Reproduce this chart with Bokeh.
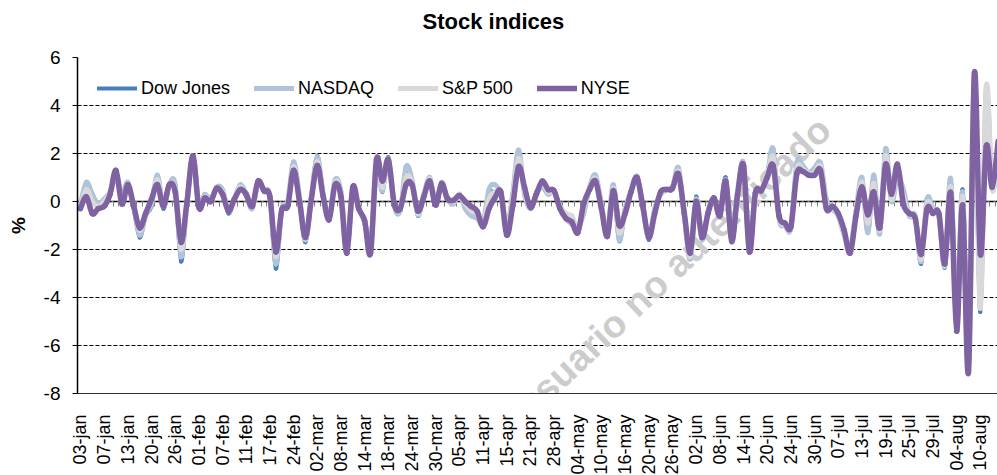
import math
import numpy as np
import pandas as pd
from bokeh.plotting import figure
from bokeh.models import (Range1d, LinearAxis, FixedTicker, Label, Legend, LegendItem,
                          ColumnDataSource, Title)
from bokeh.embed import file_html
from bokeh.resources import INLINE

# ---- categories: 2011 trading days ----
holidays = ["2011-01-17", "2011-02-21", "2011-04-22", "2011-05-30", "2011-07-04"]
days = pd.bdate_range("2011-01-03", "2011-08-15")
days = days[~days.isin(pd.to_datetime(holidays))]
dates = [d.strftime("%d-") + d.strftime("%b").lower() for d in days]

tick_labels = ["03-jan", "07-jan", "13-jan", "20-jan", "26-jan", "01-feb", "07-feb", "11-feb",
               "17-feb", "24-feb", "02-mar", "08-mar", "14-mar", "18-mar", "24-mar", "30-mar",
               "05-apr", "11-apr", "15-apr", "21-apr", "28-apr", "04-may", "10-may", "16-may",
               "20-may", "26-may", "02-jun", "08-jun", "14-jun", "20-jun", "24-jun", "30-jun",
               "07-jul", "13-jul", "19-jul", "25-jul", "29-jul", "04-aug", "10-aug"]

y_ticks = [-8, -6, -4, -2, 0, 2, 4, 6]

# ---- series (% daily change) ----
dow = [-0.2, 0.75, 0.2, -0.1, 0.1, 0.4, 1.0, 0.2, 0.6, -0.3,
       -1.5, -0.6, -0.2, 1.0, -0.3, 0.6, 0.6, -2.5, 0.1, 1.8,
       -0.1, 0.3, 0.1, 0.5, 0.4, -0.5, 0.1, 0.6, 0.2, -0.3,
       0.7, 0.4, 0.1, -2.8, -0.4, -0.1, 1.6, 0.1, -1.7, 0.2,
       1.9, 0.3, -0.8, 0.8, 0.3, -2.1, 0.5, -0.3, -0.9, -2.0,
       1.5, 0.4, 1.85, -0.2, -0.4, 1.1, 0.8, -0.6, 0.3, 1.0,
       -0.1, 0.7, 0.2, 0.0, 0.3, -0.2, -0.5, -0.6, -0.9, 0.4,
       0.3, 0.3, -1.1, 0.3, 2.1, 0.3, -0.3, 0.4, 0.7, 0.3,
       0.4, -0.2, -0.6, -0.9, -1.2, -0.4, 0.5, 1.0, -0.2, -1.3,
       0.6, -1.65, -0.3, 0.5, 1.0, -0.3, -1.6, -0.3, 0.3, 0.5,
       0.5, 1.4, -0.5, -2.4, 0.2, -1.6, -0.4, 0.0, -0.5, 1.0,
       -1.7, 0.3, 1.6, -2.1, 0.3, 0.5, 1.0, 2.1, -0.7, -1.0,
       -1.1, 1.5, 1.4, 1.2, 1.3, 1.5, 0.0, -0.2, -0.6, -1.3,
       -2.1, -0.5, 0.9, -1.3, 1.0, -1.3, 2.2, 0.0, 1.2, 0.4,
       -0.6, -0.6, -2.6, 0.1, -0.4, -0.5, -2.75, 0.9, -4.3, 0.5,
       -5.55, 4.0, -4.6, 4.6, 0.5, 2.0]

nasdaq = [-0.1, 0.8, 0.3, -0.1, 0.1, 0.4, 1.0, 0.3, 0.8, -0.2,
          -1.4, -0.6, -0.1, 1.1, -0.2, 0.7, 0.7, -2.3, 0.0, 1.85,
          -0.1, 0.3, 0.1, 0.6, 0.5, -0.4, 0.1, 0.7, 0.3, -0.3,
          0.8, 0.5, 0.2, -2.6, -0.3, 0.0, 1.65, 0.2, -1.6, 0.2,
          1.85, 0.3, -0.7, 0.9, 0.4, -2.0, 0.5, -0.3, -0.8, -1.9,
          1.4, 0.45, 1.8, -0.1, -0.4, 1.45, 0.9, -0.55, 0.3, 1.0,
          -0.1, 0.8, 0.1, -0.1, 0.3, -0.3, -0.6, -0.7, -0.9, 0.5,
          0.7, 0.3, -1.0, 0.3, 2.15, 0.3, -0.3, 0.3, 0.6, 0.3,
          0.4, -0.3, -0.7, -0.95, -1.1, -0.5, 0.6, 1.1, -0.1, -1.3,
          0.7, -1.6, -0.3, 0.4, 1.05, -0.3, -1.5, -0.3, 0.3, 0.5,
          0.6, 1.4, -0.6, -2.4, 0.1, -1.6, -0.4, 0.1, -0.6, 0.9,
          -1.7, 0.4, 1.6, -2.0, 0.4, 0.5, 1.1, 2.2, -0.7, -1.0,
          -1.1, 1.6, 1.5, 1.2, 1.4, 1.6, 0.1, -0.3, -0.6, -1.4,
          -2.0, -0.4, 1.0, -1.3, 1.1, -1.35, 2.2, 0.0, 1.0, 0.5,
          -0.6, -0.6, -2.5, 0.1, -0.3, -0.6, -2.7, 0.95, -5.1, 0.4,
          -6.9, 5.3, -4.1, 4.7, 0.6, 2.2]

sp500 = [-0.2, 0.5, 0.0, -0.2, 0.0, 0.4, 1.1, 0.1, 0.7, -0.2,
         -1.2, -0.5, 0.0, 0.9, -0.2, 0.7, 0.5, -2.0, 0.0, 1.85,
         -0.2, 0.2, 0.05, 0.55, 0.4, -0.4, 0.1, 0.6, 0.3, -0.25,
         0.8, 0.45, 0.15, -2.3, -0.35, -0.1, 1.45, 0.1, -1.55, 0.15,
         1.65, 0.25, -0.75, 0.8, 0.3, -2.1, 0.55, -0.3, -0.85, -2.0,
         1.5, 0.6, 1.7, -0.1, -0.35, 1.0, 0.8, -0.5, 0.25, 0.95,
         -0.1, 0.75, 0.1, 0.0, 0.3, -0.1, -0.4, -0.5, -0.95, 0.1,
         0.4, 0.35, -1.2, 0.1, 1.8, 0.45, -0.3, 0.3, 0.75, 0.4,
         0.4, -0.2, -0.5, -0.6, -1.1, -0.3, 0.55, 0.95, -0.2, -1.35,
         0.55, -1.3, -0.4, 0.45, 1.0, -0.25, -1.5, -0.4, 0.35, 0.5,
         0.55, 1.25, -0.5, -2.3, 0.05, -1.55, -0.45, 0.1, -0.6, 0.85,
         -1.65, 0.3, 1.55, -2.1, 0.35, 0.5, 1.05, 1.85, -0.65, -0.95,
         -1.1, 1.35, 1.35, 1.15, 1.2, 1.45, -0.1, -0.25, -0.55, -1.3,
         -2.1, -0.5, 0.8, -0.9, 0.75, -1.2, 1.9, 0.1, 1.35, 0.2,
         -0.55, -0.65, -2.4, -0.1, -0.4, -0.55, -2.65, 0.6, -4.8, 0.2,
         -6.7, 4.7, -4.45, 4.8, 0.5, 2.2]

nyse = [-0.3, 0.2, -0.5, -0.3, -0.2, 0.3, 1.3, -0.1, 0.7, -0.2,
        -1.1, -0.5, 0.1, 0.7, -0.2, 0.7, 0.4, -1.7, 0.0, 1.9,
        -0.25, 0.15, 0.0, 0.55, 0.3, -0.4, 0.1, 0.5, 0.3, -0.2,
        0.85, 0.45, 0.2, -2.1, -0.35, -0.2, 1.3, 0.0, -1.5, 0.1,
        1.5, 0.2, -0.75, 0.7, 0.2, -2.15, 0.6, -0.3, -0.8, -2.15,
        1.75, 0.85, 1.75, -0.1, -0.3, 0.7, 0.7, -0.4, 0.2, 0.85,
        -0.15, 0.75, 0.1, 0.05, 0.25, 0.0, -0.2, -0.4, -1.05, -0.3,
        0.15, 0.4, -1.4, -0.2, 1.45, 0.6, -0.25, 0.3, 0.85, 0.5,
        0.45, -0.3, -0.7, -0.85, -1.3, -0.1, 0.5, 0.85, -0.3, -1.45,
        0.45, -1.0, -0.5, 0.4, 1.0, -0.2, -1.5, -0.5, 0.4, 0.5,
        0.55, 1.15, -0.5, -2.15, 0.0, -1.5, -0.5, 0.15, -0.6, 0.85,
        -1.65, 0.3, 1.5, -2.1, 0.35, 0.45, 1.0, 1.5, -0.6, -0.9,
        -1.05, 1.15, 1.25, 1.1, 1.1, 1.3, -0.3, -0.2, -0.5, -1.2,
        -2.15, -0.6, 0.6, -0.55, 0.4, -1.1, 1.55, 0.3, 1.55, -0.1,
        -0.5, -0.7, -2.2, -0.3, -0.5, -0.5, -2.6, 0.35, -5.4, -0.15,
        -7.1, 5.35, -2.2, 2.3, 0.6, 2.5]

series = [("Dow Jones", dow, "#4A7EBB", 4),
          ("NASDAQ", nasdaq, "#AFC4DA", 5),
          ("S&P 500", sp500, "#D9D9D9", 5),
          ("NYSE", nyse, "#7F62A2", 5.5)]

FONT = "Liberation Sans"


def smooth_segments(vals):
    """Cubic Bezier segments through the data points (Excel-style smoothed line)."""
    ys = np.asarray(vals, dtype=float)
    xs = np.arange(len(ys), dtype=float)
    xp = np.concatenate([[xs[0]], xs, [xs[-1]]])
    yp = np.concatenate([[ys[0]], ys, [ys[-1]]])
    i = np.arange(len(ys) - 1)
    x0, y0 = xp[i + 1], yp[i + 1]
    x1, y1 = xp[i + 2], yp[i + 2]
    cx0 = x0 + (xp[i + 2] - xp[i]) / 6.0
    cy0 = y0 + (yp[i + 2] - yp[i]) / 6.0
    cx1 = x1 - (xp[i + 3] - xp[i + 1]) / 6.0
    cy1 = y1 - (yp[i + 3] - yp[i + 1]) / 6.0
    return dict(x0=x0, y0=y0, x1=x1, y1=y1, cx0=cx0, cy0=cy0, cx1=cx1, cy1=cy1)


p = figure(frame_width=920, frame_height=336,
           x_range=Range1d(-0.5, 154.9), y_range=Range1d(-8, 6),
           output_backend="svg", toolbar_location=None, title_location=None,
           min_border_left=77, min_border_right=0, min_border_top=57, min_border_bottom=0,
           outline_line_color=None, background_fill_color="white", border_fill_color="white")

# title (a thin spacer title next to the frame pushes the real title upwards)
p.add_layout(Title(text=" ", text_font_size="1px", standoff=21), "above")
p.add_layout(Title(text="Stock indices", text_font=FONT, text_font_size="22px",
                   text_font_style="bold", text_color="black", align="left", offset=345,
                   vertical_align="bottom", standoff=0), "above")

# grid
p.xgrid.visible = False
p.ygrid.ticker = FixedTicker(ticks=y_ticks)
p.ygrid.grid_line_color = "black"
p.ygrid.grid_line_dash = "4 2"
p.ygrid.grid_line_width = 1

# y axis
p.yaxis.ticker = FixedTicker(ticks=y_ticks)
p.yaxis.major_label_overrides = {t: str(t) for t in y_ticks}
p.yaxis.axis_line_color = "black"
p.yaxis.axis_line_width = 1.5
p.yaxis.major_tick_line_color = "black"
p.yaxis.major_tick_out = 5
p.yaxis.major_tick_in = 0
p.yaxis.minor_tick_line_color = None
p.yaxis.major_label_text_font = FONT
p.yaxis.major_label_text_font_size = "19px"
p.yaxis.major_label_text_color = "black"
p.yaxis.major_label_standoff = 12
p.yaxis.axis_label = "%"
p.yaxis.axis_label_text_font = FONT
p.yaxis.axis_label_text_font_size = "19px"
p.yaxis.axis_label_text_font_style = "bold"
p.yaxis.axis_label_text_color = "black"
p.yaxis.axis_label_standoff = 12

# x axis (labels only, solid base line at the bottom of the plot area)
tick_pos = [dates.index(t) for t in tick_labels]
p.xaxis.ticker = FixedTicker(ticks=tick_pos)
p.xaxis.major_label_overrides = {pos: lab for pos, lab in zip(tick_pos, tick_labels)}
p.xaxis.major_label_orientation = math.pi / 2
p.xaxis.axis_line_color = "#303030"
p.xaxis.axis_line_width = 1
p.xaxis.major_tick_line_color = None
p.xaxis.minor_tick_line_color = None
p.xaxis.major_label_standoff = 15
p.xaxis.major_label_text_font = FONT
p.xaxis.major_label_text_font_size = "18px"
p.xaxis.major_label_text_color = "black"

# category axis crossing at zero
zero_axis = LinearAxis(fixed_location=0,
                       ticker=FixedTicker(ticks=[i - 0.5 for i in range(len(dates) + 1)]),
                       axis_line_color="#808080", axis_line_width=2,
                       major_tick_out=5, major_tick_in=0,
                       major_tick_line_color="#808080", major_tick_line_width=1,
                       minor_tick_line_color=None,
                       major_label_text_font_size="0px", major_label_text_color=None,
                       level="underlay")
p.add_layout(zero_axis, "below")

# watermark
wm = Label(x=65.7, y=-10.8, text="por usuario no autenticado", angle=43.5, angle_units="deg",
           text_font=FONT, text_font_size="38px", text_font_style="bold",
           text_color="#CCCCCC", text_align="left", text_baseline="middle", level="underlay")
p.add_layout(wm)

# series
items = []
for name, vals, color, lw in series:
    src = ColumnDataSource(smooth_segments(vals))
    r = p.bezier(x0="x0", y0="y0", x1="x1", y1="y1", cx0="cx0", cy0="cy0", cx1="cx1", cy1="cy1",
                 source=src, line_color=color, line_width=lw, line_cap="round")
    items.append(LegendItem(label=name, renderers=[r]))

legend = Legend(items=items, orientation="horizontal", location="top_left",
                border_line_color=None, background_fill_alpha=0,
                label_text_font=FONT, label_text_font_size="18px", label_text_color="black",
                glyph_width=40, glyph_height=22, label_standoff=4, spacing=24,
                padding=10, margin=20, label_height=22)
p.add_layout(legend)

open("out.html", "w").write(file_html(p, INLINE))
